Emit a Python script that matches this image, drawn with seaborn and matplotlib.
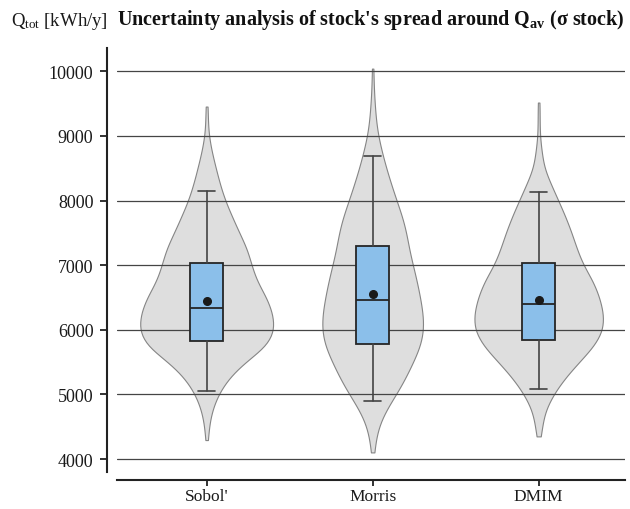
"""
Violin + box chart of the stock spread uncertainty (Sobol', Morris, DMIM).
"""

import numpy as np
import pandas as pd
import matplotlib
matplotlib.use("Agg")
import matplotlib.pyplot as plt
import seaborn as sns

# Methods compared
methods = ["Sobol'", "Morris", "DMIM"]

# Binned model output (bin centre in kWh/y -> number of runs)
levels = [4250, 4500, 4750, 5000, 5250, 5500, 5750, 6000, 6250, 6500, 6750, 7000,
          7250, 7500, 7750, 8000, 8250, 8500, 8750, 9000, 9250, 9500, 9750, 10000]
sobol_counts = [0, 2, 5, 11, 21, 37, 60, 67, 65, 59, 49, 44,
                40, 32, 25, 18, 13, 9, 5, 2, 1, 0, 0, 0]
morris_counts = [2, 5, 12, 23, 32, 39, 47, 50, 49, 46, 43, 39,
                 35, 33, 29, 23, 18, 13, 9, 5, 3, 2, 1, 0]
dmim_counts = [0, 3, 6, 14, 25, 39, 54, 63, 63, 59, 53, 43,
               37, 32, 26, 19, 12, 5, 3, 1, 1, 0, 0, 0]

# Extreme single runs (tips of the violins)
run_min = [4294, 4103, 4351]
run_max = [9454, 10041, 9516]

# Box statistics
q1 = [5825, 5773, 5845]
median = [6330, 6459, 6392]
q3 = [7026, 7294, 7031]
whisker_low = [5052, 4897, 5087]
whisker_high = [8149, 8686, 8134]
mean = [6448, 6556, 6464]


def build_samples():
    """Expand the binned counts into one long DataFrame."""
    frames = []
    for i, (name, counts) in enumerate(zip(methods, [sobol_counts, morris_counts, dmim_counts])):
        values = np.repeat(levels, counts).astype(float)
        values = np.concatenate([values, [run_min[i], run_max[i]]])
        frames.append(pd.DataFrame({"method": name, "value": values}))
    return pd.concat(frames, ignore_index=True)


def main():
    sns.set_theme(style="ticks")
    plt.rcParams["font.family"] = ["Liberation Serif", "DejaVu Serif"]
    plt.rcParams["mathtext.fontset"] = "custom"
    plt.rcParams["mathtext.rm"] = "Liberation Serif"
    plt.rcParams["mathtext.bf"] = "Liberation Serif:bold"
    plt.rcParams["mathtext.it"] = "Liberation Serif:italic"

    df = build_samples()

    fig = plt.figure(figsize=(6.3, 5.1), dpi=100)
    ax = fig.add_axes([117 / 630, 1 - 473 / 510, 508 / 630, 424 / 510])

    # Violins
    sns.violinplot(data=df, x="method", y="value", order=methods,
                   color="#DEDEDE", linecolor="#858585", linewidth=0.8,
                   saturation=1, inner=None, cut=0, bw_method=0.2,
                   density_norm="area", width=0.8, ax=ax)

    # Boxes with mean marker
    stats = []
    for i, name in enumerate(methods):
        stats.append({"label": name, "q1": q1[i], "med": median[i], "q3": q3[i],
                      "whislo": whisker_low[i], "whishi": whisker_high[i],
                      "mean": mean[i], "fliers": []})
    ax.bxp(stats, positions=range(len(methods)), widths=0.2, patch_artist=True,
           showmeans=True, showfliers=False, manage_ticks=False, zorder=3,
           boxprops=dict(facecolor="#8BBFEA", edgecolor="#262626", linewidth=1.3),
           medianprops=dict(color="#262626", linewidth=1.3),
           whiskerprops=dict(color="#444444", linewidth=1.2),
           capprops=dict(color="#444444", linewidth=1.2),
           meanprops=dict(marker="o", markerfacecolor="#1A1A1A",
                          markeredgecolor="#1A1A1A", markersize=5.5))

    # Axes styling
    ax.set_xlim(-0.54, 2.52)
    ax.set_ylim(3800, 10360)
    ax.set_yticks(range(4000, 10001, 1000))
    ax.yaxis.grid(True, color="#454545", linewidth=0.9)
    ax.xaxis.grid(False)
    ax.set_axisbelow("line")
    ax.set_xlabel("")
    ax.set_ylabel("")

    sns.despine(ax=ax)
    ax.spines["left"].set_position(("outward", 7))
    ax.spines["bottom"].set_position(("outward", 6))
    for side in ["left", "bottom"]:
        ax.spines[side].set_linewidth(1.5)
        ax.spines[side].set_color("#222222")
    ax.tick_params(axis="both", length=5, width=1.3, color="#222222",
                   labelsize=13, labelcolor="#1A1A1A")
    ax.tick_params(axis="y", pad=5)
    ax.tick_params(axis="x", length=4, pad=1.5, labelsize=12.5)

    # Titles
    fig.text(108 / 630, 1 - 25.5 / 510, r"$\mathrm{Q}_{\mathrm{tot}}$ [kWh/y]",
             ha="right", va="baseline", fontsize=13.5, color="#1A1A1A")
    fig.text(371 / 630, 1 - 25.5 / 510,
             r"Uncertainty analysis of stock's spread around $\mathbf{Q}_{\mathbf{av}}$ (σ stock)",
             ha="center", va="baseline", fontsize=14.5, fontweight="bold", color="#111111")

    fig.savefig("out.png", dpi=100)
    plt.close(fig)


if __name__ == "__main__":
    main()
